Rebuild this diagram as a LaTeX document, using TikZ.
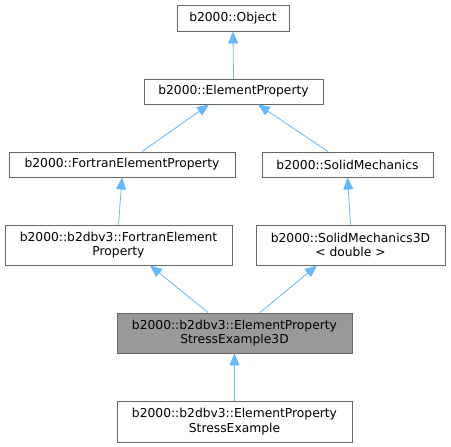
\documentclass[tikz,border=0pt]{standalone}
\usepackage{fontspec}
\setmainfont{DejaVu Sans}
\usetikzlibrary{arrows.meta}
\definecolor{edgeblue}{HTML}{63B8FF}
\definecolor{boxline}{HTML}{666666}
\definecolor{curfill}{HTML}{999999}
\begin{document}
\begin{tikzpicture}[x=1pt,y=-1pt,
  cls/.style={draw=boxline,fill=white,line width=0.9pt,inner sep=0pt,align=center,
    font=\fontsize{12.3pt}{14.5pt}\selectfont},
  cur/.style={cls,fill=curfill},
  edge/.style={draw=edgeblue,line width=0.8pt,-{Triangle[length=12pt,width=10pt]}}]
\useasboundingbox (0,0) rectangle (451,447);
\node[cls,minimum width=112pt,minimum height=26pt] (obj) at (233,18) {b2000::Object};
\node[cls,minimum width=179pt,minimum height=25pt] (ep) at (233.5,91.5) {b2000::ElementProperty};
\node[cls,minimum width=226pt,minimum height=25pt] (fep) at (122,164.5) {b2000::FortranElementProperty};
\node[cls,minimum width=171pt,minimum height=25pt] (sm) at (347.5,164.5) {b2000::SolidMechanics};
\node[cls,minimum width=227pt,minimum height=40pt] (fep2) at (118.5,245) {b2000::b2dbv3::FortranElement\\Property};
\node[cls,minimum width=189pt,minimum height=40pt] (sm3) at (350.5,245) {b2000::SolidMechanics3D\\< double >};
\node[cur,minimum width=235pt,minimum height=40pt] (cur) at (234.5,333) {b2000::b2dbv3::ElementProperty\\StressExample3D};
\node[cls,minimum width=235pt,minimum height=41pt] (bot) at (234.5,421.5) {b2000::b2dbv3::ElementProperty\\StressExample};
\draw[edge] (ep.north) -- (obj.south);
\draw[edge] ([xshift=20pt]fep.north) -- ([xshift=-24.5pt]ep.south);
\draw[edge] ([xshift=-19.5pt]sm.north) -- ([xshift=24.5pt]ep.south);
\draw[edge] (fep2.north) -- (fep.south);
\draw[edge] (sm3.north) -- (sm.south);
\draw[edge] ([xshift=-26.5pt]cur.north) -- ([xshift=31.5pt]fep2.south);
\draw[edge] ([xshift=25.5pt]cur.north) -- ([xshift=-33.5pt]sm3.south);
\draw[edge] (bot.north) -- (cur.south);
\end{tikzpicture}
\end{document}
